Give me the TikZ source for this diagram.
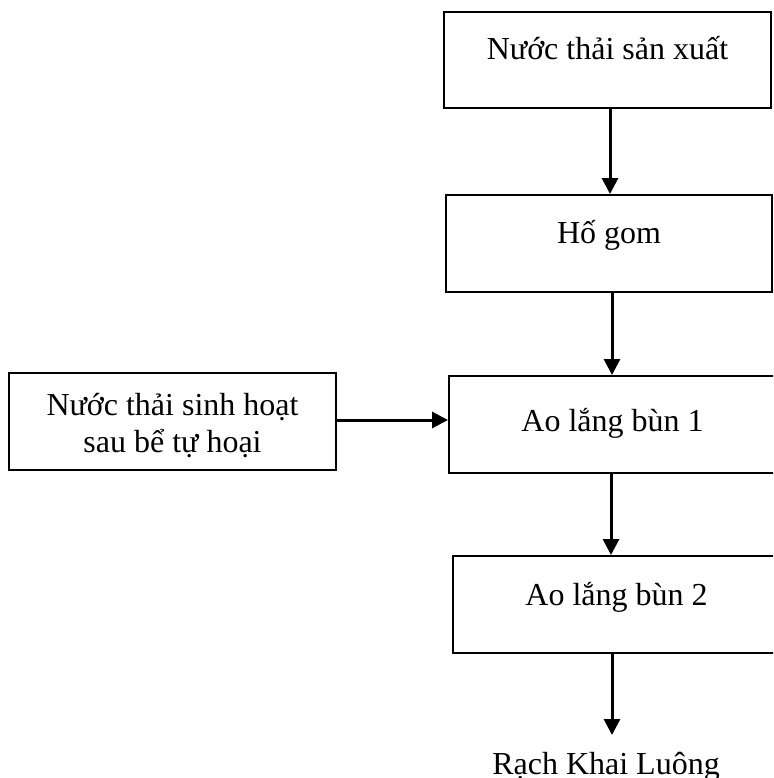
\documentclass[tikz,border=0pt]{standalone}
\usepackage{fontspec}
\setmainfont{Liberation Serif}
\usetikzlibrary{arrows.meta,calc}
\tikzset{
  box/.style={draw=black, line width=2pt, minimum width=327pt, minimum height=96pt, inner sep=0pt, fill=white},
  txt/.style={inner sep=0pt, anchor=base, font=\fontsize{32}{37}\selectfont},
  arr/.style={line width=3pt, -{Triangle[length=16pt,width=16pt]}}
}
\begin{document}
\begin{tikzpicture}[x=1pt,y=-1pt]
\useasboundingbox (0,0) rectangle (773,778);
\clip (0,0) rectangle (773,778);
\node[box] (b1) at (607.5,60) {};
\node[box, minimum width=326pt, minimum height=97pt] (b2) at (609,243.5) {};
\node[box, minimum height=97pt] (b3) at (612.5,424.5) {};
\node[box, minimum height=97pt] (bL) at (172.5,421.5) {};
\node[box, minimum height=97pt] (b4) at (616.5,604.5) {};
\node[txt] (t1) at (607.5,60) {Nước thải sản xuất};
\node[txt] (t2) at (609,243) {Hố gom};
\node[txt] (t3) at (612.5,431) {Ao lắng bùn 1};
\node[txt] (tL1) at (172.5,415) {Nước thải sinh hoạt};
\node[txt] (tL2) at (172.5,452) {sau bể tự hoại};
\node[txt] (t4) at (616.5,605) {Ao lắng bùn 2};
\node[txt] (r) at (606,774) {Rạch Khai Luông};
\coordinate (rtop) at (612,735);
\draw[arr] ([xshift=2.5pt]b1.south) -- ([xshift=2.5pt]b1.south |- b2.north);
\draw[arr] ([xshift=3pt]b2.south) -- ([xshift=3pt]b2.south |- b3.north);
\draw[arr] ([xshift=-1.5pt]b3.south) -- ([xshift=-1.5pt]b3.south |- b4.north);
\draw[arr] (rtop |- b4.south) -- (rtop);
\draw[arr] ([yshift=1.5pt]bL.east) -- ([yshift=1.5pt]bL.east -| b3.west);
\end{tikzpicture}
\end{document}
